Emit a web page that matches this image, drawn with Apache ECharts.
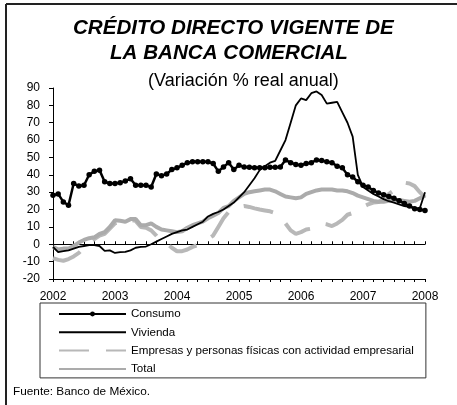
<!DOCTYPE html>
<html>
<head>
<meta charset="utf-8">
<script src="https://cdn.jsdelivr.net/npm/echarts@6/dist/echarts.min.js"></script>
<style>
  html, body { margin: 0; padding: 0; background: #fff; }
  #main { width: 457px; height: 405px; }
</style>
</head>
<body>
<div id="main"></div>
<script>
// años del eje (etiquetas cada 12 meses)
var years = ['2002', '2003', '2004', '2005', '2006', '2007'];
var lastMonth = '2008-01';

// variación % real anual, mensual de ene-2002 a ene-2008
var consumo = [28.3, 29, 24.4, 22.5, 35, 33.5, 34, 40, 42, 42.7,
  36, 35, 35, 35.5, 36.5, 37.7, 34, 34, 34, 33,
  40.5, 39.5, 40.5, 43, 44, 45.5, 47, 47.5, 47.5, 47.5,
  47.5, 46.5, 42, 44.5, 47, 43, 45.5, 44.5, 44.3, 44,
  44, 44, 44.3, 44.4, 44.5, 48.5, 47, 46, 45.5, 46.5,
  47, 48.5, 48.3, 47.5, 47, 45, 44, 40, 38.8, 36,
  34, 33, 31, 29.5, 28.5, 27.5, 26.5, 25, 23.5, 22,
  20.5, 20, 19.5];
var vivienda = [-1.5, -4.5, -4, -3.5, -2.5, -1.5, -1, -0.5, -0.5, -1,
  -3.8, -3.5, -5, -4.5, -4.4, -3.5, -2, -1.5, -1.3, 0,
  1.5, 3, 4.5, 6, 7, 8, 8.5, 10, 11.5, 13,
  16, 17.5, 18.6, 20, 22, 24, 27, 30, 34, 38,
  42.7, 45, 47, 48, 54, 60, 70, 80, 84, 83,
  87, 88, 86, 81, 81.5, 82, 76, 70, 62, 40,
  33, 31, 29, 27.5, 26, 24.8, 24, 23, 22, 21.5,
  21, 20.7, 30];
var empresas = [-8, -9, -9.5, -8.5, -7, -5, -2, 1, 3, 5,
  6, 9, 12, 13, 12.5, 14, 13.5, 10, 9.5, 8,
  5, 1, 0.5, -2, -4, -4, -3, -1.5, -0.5, 1,
  3, 5, 10, 15, 18.6, 20, 21.5, 22, 21.5, 20.7,
  20, 19.5, 19, 18, 15, 12, 8, 6, 7, 8.5,
  9, 11, 12, 11.5, 10.5, 12, 14, 17, 18, 20,
  21.5, 23, 24, 24.4, 26, 29, 31, 34, 35.5, 35,
  33.5, 30, 27];
var total = [-1.5, -3, -2.5, -2.5, -1, 1, 2.5, 3.5, 4, 6,
  7, 10, 13.8, 13.5, 13, 14.5, 14.5, 11, 11, 12,
  10, 8.5, 8, 7.5, 7, 7.5, 9.5, 11, 12, 13,
  15, 16.5, 18, 21, 22, 25, 27, 29, 30, 30.5,
  31, 31.5, 31.5, 30.5, 29, 27.5, 27, 26.5, 27, 29,
  30, 31, 31.5, 31.5, 31.5, 31, 31, 30.5, 29.5, 28,
  27, 26, 25, 24.5, 24.5, 25, 25.5, 25.5, 25, 24.5,
  25, 26.5, 28];

var meses = [];
years.forEach(function (y) {
  for (var m = 1; m <= 12; m++) meses.push(y + '-' + (m < 10 ? '0' + m : m));
});
meses.push(lastMonth);

var font = 'Liberation Sans, Arial, sans-serif';
var titleStyle = { fontFamily: font, fontSize: 20.6, fontWeight: 'bold', fontStyle: 'italic', lineHeight: 24, color: '#000' };
var chart = echarts.init(document.getElementById('main'));

var option = {
  backgroundColor: '#fff',
  animation: false,
  textStyle: { fontFamily: font, color: '#000' },
  title: [
    { text: 'CRÉDITO DIRECTO VIGENTE DE', left: 73, top: 16, padding: 0, textStyle: titleStyle },
    { text: 'LA BANCA COMERCIAL', left: 110, top: 41, padding: 0, textStyle: titleStyle },
    {
      text: '(Variación % real anual)',
      left: 148,
      top: 71,
      padding: 0,
      textStyle: { fontFamily: font, fontSize: 18, fontWeight: 'normal', lineHeight: 20, color: '#000' }
    },
    {
      text: 'Fuente: Banco de México.',
      left: 13,
      top: 385,
      padding: 0,
      textStyle: { fontFamily: font, fontSize: 11.8, fontWeight: 'normal', lineHeight: 14, color: '#000' }
    }
  ],
  graphic: [
    { type: 'line', shape: { x1: 6, y1: 4, x2: 6, y2: 405 }, style: { stroke: '#222', lineWidth: 2 } },
    { type: 'line', shape: { x1: 6, y1: 4, x2: 457, y2: 4 }, style: { stroke: '#222', lineWidth: 2 } }
  ],
  legend: {
    orient: 'vertical',
    left: 40,
    top: 303,
    padding: [5, 12, 3, 18],
    itemWidth: 67,
    itemHeight: 6,
    itemGap: 6.3,
    borderColor: '#333',
    borderWidth: 1,
    textStyle: { fontFamily: font, fontSize: 11.6, lineHeight: 12, color: '#000' },
    data: [
      { name: 'Consumo' },
      { name: 'Vivienda', itemStyle: { opacity: 0 } },
      { name: 'Empresas y personas físicas con actividad empresarial', itemStyle: { opacity: 0 } },
      { name: 'Total', itemStyle: { opacity: 0 } }
    ]
  },
  grid: { left: 53, right: 32, top: 88, bottom: 126 },
  xAxis: [
    {
      type: 'category',
      data: meses,
      boundaryGap: false,
      position: 'bottom',
      axisLine: { show: false, onZero: false },
      axisTick: { show: false },
      axisLabel: {
        interval: 11,
        margin: 12,
        fontSize: 12,
        color: '#000',
        formatter: function (v) { return v.slice(0, 4); }
      }
    },
    {
      type: 'category',
      data: meses,
      boundaryGap: false,
      position: 'top',
      axisLine: { onZero: true, lineStyle: { color: '#000', width: 1 } },
      axisTick: { show: true, interval: 1, length: 3, lineStyle: { color: '#000' } },
      axisLabel: { show: false }
    },
    {
      type: 'category',
      data: meses,
      boundaryGap: false,
      position: 'bottom',
      axisLine: { onZero: true, lineStyle: { color: '#000', width: 1 } },
      axisTick: { show: true, interval: 1, length: 3, lineStyle: { color: '#000' } },
      axisLabel: { show: false }
    }
  ],
  yAxis: {
    type: 'value',
    min: -20,
    max: 90,
    interval: 10,
    axisLine: { show: true, lineStyle: { color: '#000', width: 1 } },
    axisTick: { show: true, length: 4, lineStyle: { color: '#000' } },
    axisLabel: { fontSize: 12, color: '#000', margin: 13 },
    splitLine: { show: false }
  },
  series: [
    {
      name: 'Consumo',
      type: 'line',
      data: consumo,
      z: 5,
      symbol: 'circle',
      symbolSize: 5.5,
      showAllSymbol: true,
      itemStyle: { color: '#000' },
      lineStyle: { color: '#000', width: 2.5 }
    },
    {
      name: 'Vivienda',
      type: 'line',
      data: vivienda,
      z: 4,
      symbol: 'none',
      itemStyle: { color: '#000' },
      lineStyle: { color: '#000', width: 1.8 }
    },
    {
      name: 'Empresas y personas físicas con actividad empresarial',
      type: 'line',
      data: empresas,
      z: 2,
      symbol: 'none',
      itemStyle: { color: '#b8b8b8' },
      lineStyle: { color: '#b8b8b8', width: 4, type: [30, 17] }
    },
    {
      name: 'Total',
      type: 'line',
      data: total,
      z: 3,
      symbol: 'none',
      itemStyle: { color: '#ababab' },
      lineStyle: { color: '#ababab', width: 4 }
    }
  ]
};

chart.setOption(option);
</script>
</body>
</html>
